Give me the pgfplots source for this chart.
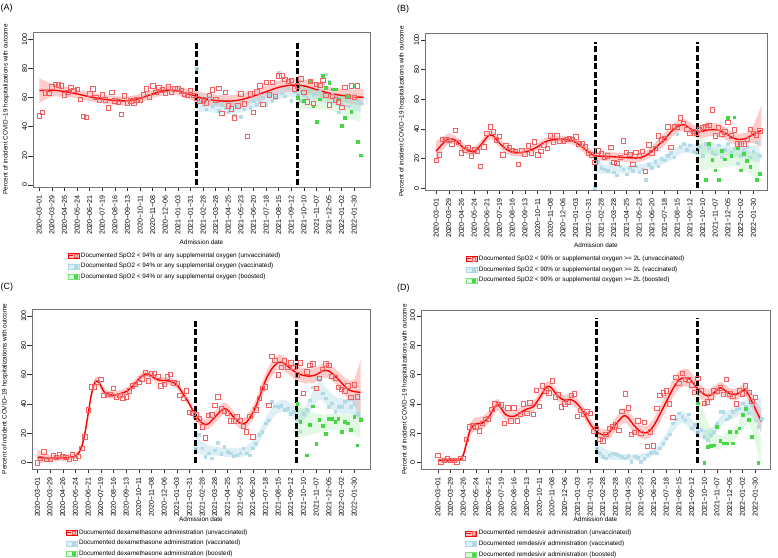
\documentclass[border=0pt]{standalone}
\usepackage{fontspec}
\setmainfont{Liberation Sans}
\usepackage{pgfplots}
\pgfplotsset{compat=1.18}
\usepgfplotslibrary{fillbetween}
\usepackage{pgfplotstable}

\definecolor{ptred}{RGB}{245,95,95}
\definecolor{lblue}{RGB}{173,216,230}
\definecolor{pgreen}{RGB}{70,215,70}
\definecolor{bgreen}{RGB}{120,225,120}
\newcommand\tl{\fontsize{6.4}{7.2}\selectfont}
\newcommand\tk{\fontsize{7.1}{8}\selectfont}

% ---------------- Panel A ----------------
\pgfplotstableread[row sep=\\]{w v\\0 47.6\\1 50\\2 63.2\\3 63\\4 67.5\\5 69\\6 68.7\\7 68\\8 62\\9 63.6\\10 67\\11 64.8\\12 65.7\\13 58.6\\14 47\\15 46.5\\16 62.7\\17 65.9\\18 60\\19 58.4\\20 61.8\\21 58.4\\22 53\\23 63.6\\24 57.7\\25 57.2\\26 48.3\\27 61.3\\28 56.3\\29 57.9\\30 56.5\\31 58.4\\32 58.4\\33 62\\34 66.1\\35 60.4\\36 68.2\\37 63.8\\38 67\\39 65.2\\40 63\\41 67.5\\42 63.8\\43 66.1\\44 65.9\\45 64.5\\46 62.2\\47 61.6\\48 64.8\\49 61.6\\50 59.3\\51 57.9\\52 58.4\\53 56.5\\54 61.6\\55 65.2\\56 58.4\\57 66.4\\58 49\\59 63.4\\60 54.2\\61 52.4\\62 46.2\\63 54.2\\64 62.5\\65 55.6\\66 33.4\\67 62.5\\68 50\\69 64\\70 68\\71 55.5\\72 70.5\\73 62\\74 70.5\\75 61\\76 75\\77 75\\78 72.5\\79 71\\80 72\\81 66\\82 68\\83 73\\84 63.5\\85 57\\86 71\\87 56\\88 69\\89 68.5\\90 72\\91 61.5\\92 55\\93 61\\94 58.5\\95 57\\96 53.5\\97 67\\98 61\\99 68\\100 60\\101 68\\}\Aup
\pgfplotstableread[row sep=\\]{w v\\50 80\\51 57\\52 55\\53 52\\54 60\\55 54\\56 56\\57 51\\58 55\\59 53\\60 50\\61 56\\62 48\\63 54\\64 47\\65 52\\66 56\\67 53\\68 58\\69 55\\70 57\\71 60\\72 55\\73 62\\74 58\\75 60\\76 77\\77 63\\78 61\\79 66\\80 58\\81 64\\82 62\\83 58\\84 62\\85 60\\86 65\\87 62\\88 67\\89 64\\90 70\\91 76\\92 71\\93 62\\94 58\\95 50\\96 55\\97 59\\98 54\\99 60\\100 62\\101 58\\102 56\\}\Avp
\pgfplotstableread[row sep=\\]{w v\\82 60\\84 58\\86 70.7\\87 54\\88 43.5\\89 58.8\\90 75\\91 67\\92 70\\93 65.7\\94 65.7\\95 58.8\\96 40.7\\97 46.2\\98 60.6\\99 50.3\\100 68\\101 29.5\\102 20.4\\}\Abp
\pgfplotstableread[row sep=\\]{w m lo hi\\0 64.8 56.3 73.3\\4 65 60.5 69.5\\8 64.2 60.7 67.7\\12 62.5 59.5 65.5\\16 60.5 57.5 63.5\\20 59 56 62\\24 58 55 61\\28 57.8 54.8 60.8\\32 59.5 56.5 62.5\\36 62.5 59.5 65.5\\40 65 62 68\\44 64.5 61.5 67.5\\48 62 58.5 65.5\\52 59.5 55.5 63.5\\56 58 54 62\\60 57.5 53.5 61.5\\64 58.5 54.5 62.5\\68 61 57 65\\72 64 60 68\\76 67 62.5 71.5\\80 68.5 64 73\\84 68 63.5 72.5\\88 65.5 61 70\\92 63 58.5 67.5\\96 61.5 57 66\\100 60.5 55.5 65.5\\103 60.2 54.2 66.2\\}\Auc
\pgfplotstableread[row sep=\\]{w m lo hi\\50 57 50 64\\54 55 50 60\\58 53.5 49 58\\62 53.5 49 58\\66 55 51 59\\70 58 54 62\\74 61.5 57.5 65.5\\78 64 60 68\\82 64.5 60.5 68.5\\86 63 59 67\\90 61 57 65.5\\94 59 54.5 63.5\\98 57.5 52.5 62.5\\102 56 50 62\\}\Avc
\pgfplotstableread[row sep=\\]{w m lo hi\\82 61 52 70\\86 60 53 67\\90 58.5 52 65\\94 56 50 62\\98 53 46 60\\102 51 43 59\\}\Abc

% ---------------- Panel B ----------------
\pgfplotstableread[row sep=\\]{w v\\0 19\\1 22.6\\2 33\\3 33\\4 32.5\\5 30\\6 39\\7 31\\8 24\\9 26\\10 27.6\\11 22\\12 26\\13 25\\14 14.7\\15 28\\16 37.3\\17 41.6\\18 38.2\\19 32.6\\20 35\\21 22.6\\22 28.7\\23 27.6\\24 25.8\\25 25\\26 16.3\\27 25.8\\28 23\\29 28.7\\30 24\\31 31.4\\32 22.6\\33 24.9\\34 29.4\\35 27\\36 35.5\\37 31\\38 35.5\\39 31.7\\40 32\\41 33\\42 33.5\\43 33\\44 34.8\\45 29.9\\46 30\\47 28\\48 23.5\\49 22.5\\50 17.4\\51 25.3\\52 23.5\\53 20.8\\54 22\\55 27.6\\56 17.4\\57 16.7\\58 21\\59 32\\60 24.2\\61 23\\62 16.3\\63 24.2\\64 22\\65 24.9\\66 11.3\\67 29.4\\68 24\\69 27\\70 35.5\\71 32.6\\72 33.7\\73 41.6\\74 27.6\\75 42\\76 41.6\\77 47.5\\78 44\\79 40\\80 37\\81 38.5\\82 37.5\\83 39.8\\84 41\\85 41.6\\86 42.3\\87 53\\88 35.5\\89 40.7\\90 36.6\\91 38\\92 44.6\\93 35.3\\94 39.4\\95 29.9\\96 30\\97 29.9\\98 33\\99 40\\100 37.1\\101 36\\102 38.9\\}\Bup
\pgfplotstableread[row sep=\\]{w v\\50 0\\51 18\\52 14\\53 13\\54 12\\55 17\\56 11\\57 9\\58 15\\59 13\\60 9.5\\61 14\\62 12\\63 15\\64 11\\65 13\\66 6\\67 16\\68 14\\69 18\\70 15\\71 20\\72 19\\73 22\\74 24\\75 21\\76 36.6\\77 28\\78 30\\79 26\\80 29\\81 25\\82 24\\83 28\\84 22\\85 30\\86 27.6\\87 24\\88 23\\89 29\\90 21\\91 26\\92 30\\93 24\\94 27\\95 17\\96 22\\97 26\\98 28\\99 21\\100 25\\101 31\\102 22\\}\Bvp
\pgfplotstableread[row sep=\\]{w v\\85 5.9\\86 29.9\\87 19.5\\88 12.2\\89 5.7\\90 25.3\\91 19.7\\92 47.5\\93 22\\94 48\\95 27.6\\96 12.2\\97 23.5\\98 18.6\\99 14.5\\101 5.7\\102 10\\}\Bbp
\pgfplotstableread[row sep=\\]{w m lo hi\\0 25 18 32\\2 30 25.5 34.5\\4 33.5 30 37\\6 32.5 29.5 35.5\\8 28.5 25.5 31.5\\10 25.5 22.5 28.5\\12 25 22 28\\14 29 26 32\\16 34.5 31.5 37.5\\17 36 33 39\\18 35.5 32.5 38.5\\20 30.5 27.5 33.5\\22 26.5 23.5 29.5\\24 24.5 22 27\\26 24 21.5 26.5\\28 24.5 22 27\\30 26 23.5 28.5\\32 28 25.5 30.5\\34 31 28.5 33.5\\36 32.5 30 35\\38 33 30.5 35.5\\40 33 30.5 35.5\\42 32.5 30 35\\44 31 28.5 33.5\\46 28 25 31\\48 24.5 21.5 27.5\\50 22 19 25\\54 21.5 18.5 24.5\\58 21 18 24\\62 20.5 17.5 23.5\\64 20.5 17.5 23.5\\66 22 19 25\\68 25 21.5 28.5\\70 29 25 33\\72 33 29 37\\74 38 34 42\\76 41.5 37.5 45.5\\78 43 39 47\\80 40.5 36.5 44.5\\82 38 34 42\\84 38.5 34 43\\86 39.5 35 44\\88 39.5 35 44\\90 38.5 34 43\\92 36 32 40\\94 33.5 29.5 37.5\\96 33 29 37\\98 34 30 38\\100 36.5 30.5 42.5\\102.5 39 28 56\\}\Buc
\pgfplotstableread[row sep=\\]{w m lo hi\\50 14 10 18\\54 13 10 16\\58 12.5 10 15\\62 13 10.5 15.5\\66 14.5 12 17\\70 17.5 15 20\\74 22 19 25\\78 27 24 30\\82 26.5 23 30\\86 27 23.5 30.5\\90 25.5 22 29\\94 24.5 21 28\\98 24 20 28\\102 23.5 17 30\\}\Bvc
\pgfplotstableread[row sep=\\]{w m lo hi\\82 26 12 40\\84 23 12 34\\86 21 13 29\\90 20 14 26\\94 21 15 27\\98 18 11 25\\102 14 4 24\\}\Bbc

% ---------------- Panel C ----------------
\pgfplotstableread[row sep=\\]{w v\\0 0\\1 3\\2 7.5\\3 2.3\\4 2.3\\5 4.8\\6 3.5\\7 5.5\\8 4.5\\9 3.5\\10 2.5\\11 5.5\\12 3\\13 4.5\\14 9.8\\15 17.7\\16 36\\17 51.8\\18 51.8\\19 55\\20 57\\21 46\\22 46.6\\23 46.8\\24 50.7\\25 45\\26 46\\27 44\\28 45\\29 48.9\\30 52.3\\31 53.6\\32 55\\33 57.3\\34 61.4\\35 55.9\\36 60.5\\37 61\\38 59\\39 52.3\\40 53.6\\41 58.6\\42 60.2\\43 54.5\\44 54\\45 46\\46 43.9\\47 48.9\\48 34.3\\49 33.6\\50 32.7\\51 30\\52 24.5\\53 17\\54 32.5\\55 32.7\\56 39.3\\57 45\\58 37\\59 35\\60 34\\61 28.6\\62 28.6\\63 31.4\\64 28.6\\65 25\\66 21\\67 31.8\\68 17.7\\69 36\\70 44\\71 50.7\\72 51.8\\73 39.3\\74 72.7\\75 70\\76 60\\77 65\\78 69.5\\79 65\\80 68.2\\81 65\\82 59.8\\83 68\\84 47.3\\85 62\\86 66.6\\87 67.3\\88 50.7\\89 57.5\\90 63.6\\91 67.3\\92 66.6\\93 59\\94 58\\95 51.4\\96 50\\97 48.9\\98 52.3\\99 44.5\\100 53\\101 45\\}\Cup
\pgfplotstableread[row sep=\\]{w v\\50 10\\51 18.9\\52 9.8\\53 4\\54 6.4\\55 3\\56 8.6\\57 13.6\\58 6\\59 11\\60 7.5\\61 6.4\\62 4.5\\63 5.2\\64 6.4\\65 9.8\\66 6.4\\67 5.2\\68 9.8\\69 13\\70 18.9\\71 21\\72 26.8\\73 29\\74 41.6\\75 38.6\\76 38\\77 39\\78 36\\79 37\\80 33.6\\81 34.8\\82 29\\83 21\\84 33.6\\85 36\\86 42.7\\87 51.4\\88 57.5\\89 56.4\\90 47.3\\91 43.9\\92 38.2\\93 40.5\\94 34.8\\95 38.2\\96 38.2\\97 41.6\\98 42.7\\99 38.2\\100 40\\101 33.6\\102 30\\}\Cvp
\pgfplotstableread[row sep=\\]{w v\\82 40\\83 28\\85 5.2\\86 25.7\\87 38.6\\88 13\\89 29.5\\90 25\\91 20\\92 30\\93 30\\94 28\\95 30\\96 21\\97 28\\98 27\\99 22.7\\100 31.4\\101 12\\102 29.5\\}\Cbp
\pgfplotstableread[row sep=\\]{w m lo hi\\0 3.5 -1 9\\4 3.2 1 5.4\\8 3.2 1.2 5.2\\10 3.5 1.5 5.5\\12 4.5 2.5 6.5\\13 6.5 4.5 8.5\\14 11 9 13\\15 20 17.5 22.5\\16 33 30.5 35.5\\17 46 43.5 48.5\\18 54 51 57\\18.6 55.6 52.6 58.6\\19.5 54.5 51.5 57.5\\21 48.5 46 51\\22 47 44.5 49.5\\24 46 43.5 48.5\\26 47 44.5 49.5\\28 48.5 46 51\\30 52 49.5 54.5\\32 57 54.5 59.5\\34 60.5 58 63\\35 60.5 58 63\\36 59 56.5 61.5\\38 56.5 54 59\\40 56 53.5 58.5\\42 55.5 53 58\\44 53 50.5 55.5\\46 47 44.5 49.5\\48 40 37.5 42.5\\50 32 29 35\\52 27 23.5 30.5\\53 26 22.5 29.5\\54 26.5 23 30\\56 31 27 35\\58 35.5 31.5 39.5\\59 37 33 41\\60 36 32 40\\62 31 27 35\\64 27 23 31\\65 26.5 22.5 30.5\\66 27.5 23.5 31.5\\68 34 29.5 38.5\\70 44 39 49\\72 56 51 61\\74 64 59 69\\76 68.5 63.5 73.5\\77 68.5 63.5 73.5\\78 67.5 62.5 72.5\\80 64 59 69\\82 61 56 66\\84 59.5 54.5 64.5\\86 59 54 64\\88 60 55 65\\90 62.5 57.5 67.5\\91 63 58 68\\92 62.5 57.5 67.5\\94 59 54 64\\96 54.5 49 60\\98 50 43.5 56.5\\100 48.5 40 57\\102 48 26 70\\}\Cuc
\pgfplotstableread[row sep=\\]{w m lo hi\\50 12 6 18\\53 9 5 13\\56 8 5 11\\60 7 4 10\\64 7 4 10\\66 8 5 11\\68 12 8.5 15.5\\70 18 14 22\\72 26 22 30\\74 33.5 29.5 37.5\\76 38 34 42\\78 39 35 43\\80 36.5 32.5 40.5\\82 33.5 29.5 37.5\\84 33 29 37\\86 39 34 44\\88 47 41 53\\89 49 43 55\\90 48 42 54\\92 43.5 38 49\\94 40 35 45\\96 38.5 33.5 43.5\\98 38.5 33.5 43.5\\100 39 33 45\\102 38 29 47\\}\Cvc
\pgfplotstableread[row sep=\\]{w m lo hi\\82 29 17 41\\86 27 19 35\\90 27 21 33\\94 28 22.5 33.5\\98 27 21 33\\102 26 17 35\\}\Cbc

% ---------------- Panel D ----------------
\pgfplotstableread[row sep=\\]{w v\\0 5.2\\1 0.5\\2 1.8\\3 2.7\\4 1.8\\5 1.8\\6 0.7\\7 3\\8 3\\9 16\\10 24.5\\11 25\\12 24.5\\13 21.8\\14 26.8\\15 29.5\\16 30\\17 36.4\\18 40\\19 39.8\\20 39.3\\21 27\\22 37.5\\23 28.6\\24 37.5\\25 28.6\\26 33\\27 40\\28 33.6\\29 40.9\\30 33\\31 49.5\\32 38.6\\33 52.3\\34 49\\35 47.5\\36 55.7\\37 45\\38 46.4\\39 38.2\\40 40\\41 41\\42 46\\43 46.8\\44 31.4\\45 35.5\\46 33\\47 34.8\\48 33.6\\49 21.5\\50 23.4\\51 16\\52 15\\53 19.5\\54 23.4\\55 24.5\\56 25.7\\57 22\\58 34.8\\59 46.8\\60 37.5\\61 19.5\\62 20.5\\63 28.6\\64 20\\65 27.5\\66 11\\67 21\\68 11.6\\69 37\\70 46\\71 47.7\\72 48.9\\73 40\\74 31\\75 58\\76 54\\77 61\\78 57\\79 56.5\\80 53\\81 48\\82 57.5\\83 49.5\\84 40.5\\85 41.5\\86 45\\87 49\\88 48.5\\89 51\\90 46.5\\91 57\\92 47\\93 45.5\\94 40\\95 49.5\\96 47\\97 52.5\\98 48\\99 42\\100 44.5\\}\Dup
\pgfplotstableread[row sep=\\]{w v\\50 9.8\\51 6.4\\52 4\\53 3\\54 5.2\\55 6.4\\56 6\\57 5.2\\58 4\\59 3\\60 4.8\\61 0.7\\62 4.5\\63 3.6\\64 0.7\\65 2.7\\66 5.2\\67 6.8\\68 7.5\\69 6.4\\70 9.8\\71 13\\72 16.6\\73 19.5\\74 26.8\\75 29.5\\76 33.6\\77 31.4\\78 29\\79 33\\80 23.4\\81 26\\82 21\\83 22.3\\84 17.7\\85 15.5\\86 18.9\\87 21\\88 26.8\\89 34.8\\90 34.8\\91 29.5\\92 31.4\\93 34.8\\94 36\\95 37\\96 40.5\\97 38.2\\98 33.6\\99 39.3\\100 29\\101 24.5\\102 30\\}\Dvp
\pgfplotstableread[row sep=\\]{w v\\82 40.5\\84 0\\85 11\\86 11.4\\87 12\\88 24.5\\89 15\\90 13.2\\91 13.2\\92 21\\93 13.2\\94 21\\95 23.4\\96 32.5\\97 37\\98 29.5\\99 17.7\\101 0\\}\Dbp
\pgfplotstableread[row sep=\\]{w m lo hi\\0 1.5 -0.5 3.5\\4 1.7 0 3.4\\7 2.2 0.5 3.9\\8 5 3 7\\9 13 10 16\\10 21 17 25\\11 25 20.5 29.5\\12 26.5 22 31\\14 27 22.5 31.5\\16 31 27 35\\18 38 34 42\\19 39.5 35.5 43.5\\20 37 33 41\\21 33.5 30 37\\22 32 28.5 35.5\\24 31.5 28 35\\26 34 30.5 37.5\\28 36.5 33 40\\30 38 34.5 41.5\\32 44 40.5 47.5\\34 51 47.5 54.5\\35 52 48.5 55.5\\36 50.5 47 54\\38 45 41.5 48.5\\40 42.5 39 46\\42 43 39.5 46.5\\44 40 36.5 43.5\\46 34 30.5 37.5\\48 26.5 23 30\\50 21 17.5 24.5\\52 19 15.5 22.5\\53 19 15 23\\54 20.5 16.5 24.5\\56 26 21.5 30.5\\58 31 26 36\\59 32 27 37\\60 30.5 25.5 35.5\\62 25 20 30\\64 21 16.5 25.5\\66 20.5 16 25\\68 25 20 30\\70 33 27.5 38.5\\72 41.5 36 47\\74 50 44 56\\76 56.5 50.5 62.5\\78 58 52 64\\79 57.5 51.5 63.5\\80 55.5 50 61\\82 50 45 55\\84 46.5 42 51\\85 45.5 41 50\\86 46 41.5 50.5\\88 49.5 45.5 53.5\\89 51 47 55\\90 50 46 54\\92 47 43 51\\94 46.5 42.5 50.5\\96 49 45 53\\97 49.5 45.5 53.5\\98 46 41.5 50.5\\100 37 31 43\\102 28 20 36\\}\Duc
\pgfplotstableread[row sep=\\]{w m lo hi\\50 8.5 4 13\\54 5 2 8\\58 4 2 6\\62 3.5 1.5 5.5\\66 5 3 7\\68 7 5 9\\70 11 8.5 13.5\\72 17 14 20\\74 24 20.5 27.5\\76 30 26 34\\77 31 27 35\\78 30 26 34\\80 26 22.5 29.5\\82 22 18.5 25.5\\84 19 15.5 22.5\\86 20 16.5 23.5\\88 25 21.5 28.5\\90 30 26.5 33.5\\92 33 29.5 36.5\\94 35 31 39\\96 38 34 42\\98 38 33 43\\100 36 29 43\\102 33 21 45\\}\Dvc
\pgfplotstableread[row sep=\\]{w m lo hi\\82 38 28 48\\84 26 18 34\\86 17 11 23\\88 14 9 19\\90 14.5 10 19\\92 17 12.5 21.5\\94 21 16.5 25.5\\96 27 22 32\\98 32 26 38\\100 22 14 30\\102 6 -4 16\\}\Dbc

\pgfplotsset{
  panel/.style={
    scale only axis,
    ytick={0,20,40,60,80,100},
    xtick={0,4,...,100},
    xticklabels={2020−03−01,2020−03−29,2020−04−26,2020−05−24,2020−06−21,2020−07−19,2020−08−16,2020−09−13,2020−10−11,2020−11−08,2020−12−06,2021−01−03,2021−01−31,2021−02−28,2021−03−28,2021−04−25,2021−05−23,2021−06−20,2021−07−18,2021−08−15,2021−09−12,2021−10−10,2021−11−07,2021−12−05,2022−01−02,2022−01−30},
    tick align=outside, xtick pos=bottom, ytick pos=left,
    major tick length=4.5bp,
    every tick/.style={black!80, line width=0.4bp},
    axis line style={black!55, line width=0.5bp},
    tick label style={font=\tk},
    xticklabel style={rotate=90, anchor=east, inner sep=3.5bp},
    yticklabel style={rotate=90, anchor=south, inner sep=1.2bp},
    /pgf/number format/assume math mode=true,
    xlabel={Admission date},
    ylabel={Percent of incident COVID−19 hospitalizations with outcome},
    every axis x label/.style={at={(axis description cs:0.5,-0.3125)}, anchor=center, font=\tl},
    every axis y label/.style={at={(axis description cs:-0.08,0.5)}, rotate=90, anchor=center, font=\tl},
    legend style={draw=none, fill=none, font=\tl, inner sep=0pt, row sep=0.6bp, anchor=north west, cells={anchor=west}},
    legend cell align=left,
  },
}

% legend images
\pgfplotsset{
  lgu/.style={legend image code/.code={\fill[red,fill opacity=0.22] (0bp,-2.6bp) rectangle (11bp,2.6bp); \draw[red,line width=1bp] (0bp,0bp)--(5.5bp,0bp); \draw[ptred,line width=0.5bp] (6.2bp,-1.8bp) rectangle (9.8bp,1.8bp);}},
  lgv/.style={legend image code/.code={\fill[lblue,fill opacity=0.4] (0bp,-2.6bp) rectangle (11bp,2.6bp); \fill[lblue] (6.4bp,-1.5bp) rectangle (9.4bp,1.5bp);}},
  lgb/.style={legend image code/.code={\fill[bgreen,fill opacity=0.2] (0bp,-2.6bp) rectangle (11bp,2.6bp); \fill[pgreen] (6.4bp,-1.5bp) rectangle (9.4bp,1.5bp);}},
}

\newcommand\panelcontent[8]{%
  \addplot[name path=ruh, draw=none, smooth, forget plot] table[x=w,y=hi] {#4};
  \addplot[name path=rul, draw=none, smooth, forget plot] table[x=w,y=lo] {#4};
  \addplot[red, fill opacity=0.2, draw=none, forget plot] fill between[of=ruh and rul];
  \addplot[name path=rvh, draw=none, smooth, forget plot] table[x=w,y=hi] {#5};
  \addplot[name path=rvl, draw=none, smooth, forget plot] table[x=w,y=lo] {#5};
  \addplot[lblue, fill opacity=0.4, draw=none, forget plot] fill between[of=rvh and rvl];
  \addplot[name path=rbh, draw=none, smooth, forget plot] table[x=w,y=hi] {#6};
  \addplot[name path=rbl, draw=none, smooth, forget plot] table[x=w,y=lo] {#6};
  \addplot[bgreen, fill opacity=0.2, draw=none, forget plot] fill between[of=rbh and rbl];
  \addplot[only marks, mark=square*, mark size=1.3bp, lblue, mark options={fill opacity=0.85, draw opacity=0.85}, forget plot] table[x=w,y=v] {#2};
  \addplot[only marks, mark=square*, mark size=1.35bp, pgreen, forget plot] table[x=w,y=v] {#3};
  \addplot[only marks, mark=square, mark size=2.2bp, ptred, mark options={line width=0.6bp}, forget plot] table[x=w,y=v] {#1};
  \addplot[red, line width=1.4bp, smooth, forget plot] table[x=w,y=m] {#4};
  \addplot[black, line width=2.8bp, dash pattern=on 6bp off 2.5bp, forget plot] coordinates {(#7,0) (#7,98.5)};
  \addplot[black, line width=2.8bp, dash pattern=on 6bp off 2.5bp, forget plot] coordinates {(#8,0) (#8,98.5)};
}

\begin{document}
\begin{tikzpicture}

\node[anchor=west, font=\fontsize{9}{10}\selectfont, inner sep=0pt] at (0.5bp,550bp) {(A)};
\node[anchor=west, font=\fontsize{9}{10}\selectfont, inner sep=0pt] at (397bp,549bp) {(B)};
\node[anchor=west, font=\fontsize{9}{10}\selectfont, inner sep=0pt] at (0.5bp,271bp) {(C)};
\node[anchor=west, font=\fontsize{9}{10}\selectfont, inner sep=0pt] at (397bp,270bp) {(D)};

% Panel A
\begin{axis}[panel, at={(33bp,371bp)}, anchor=south west, width=337bp, height=155bp,
  xmin=-2, xmax=105, ymin=-1.4, ymax=105,
  xlabel style={at={(axis description cs:0.5,-0.355)}},
  ylabel style={at={(axis description cs:-0.08,0.5)}},
  legend style={at={(rel axis cs:0.101,-0.409)}}]
\panelcontent{\Aup}{\Avp}{\Abp}{\Auc}{\Avc}{\Abc}{50}{82}
\addlegendimage{lgu}\addlegendentry{Documented SpO2 < 94\% or any supplemental oxygen (unvaccinated)}
\addlegendimage{lgv}\addlegendentry{Documented SpO2 < 94\% or any supplemental oxygen (vaccinated)}
\addlegendimage{lgb}\addlegendentry{Documented SpO2 < 94\% or any supplemental oxygen (boosted)}
\end{axis}

% Panel B
\begin{axis}[panel, at={(425bp,368bp)}, anchor=south west, width=342bp, height=157bp,
  xmin=-3.5, xmax=104.3, ymin=-1.1, ymax=104.7,
  xlabel style={at={(axis description cs:0.5,-0.35)}},
  ylabel style={at={(axis description cs:-0.067,0.5)}},
  legend style={at={(rel axis cs:0.117,-0.406)}}]
\panelcontent{\Bup}{\Bvp}{\Bbp}{\Buc}{\Bvc}{\Bbc}{50.2}{82.3}
\addlegendimage{lgu}\addlegendentry{Documented SpO2 < 90\% or supplemental oxygen >= 2L (unvaccinated)}
\addlegendimage{lgv}\addlegendentry{Documented SpO2 < 90\% or supplemental oxygen >= 2L (vaccinated)}
\addlegendimage{lgb}\addlegendentry{Documented SpO2 < 90\% or supplemental oxygen >= 2L (boosted)}
\end{axis}

% Panel C
\begin{axis}[panel, at={(32bp,89bp)}, anchor=south west, width=338bp, height=160bp,
  xmin=-1.7, xmax=105, ymin=-4.3, ymax=104.8,
  xlabel style={at={(axis description cs:0.5,-0.3125)}},
  ylabel style={at={(axis description cs:-0.08,0.5)}},
  legend style={at={(rel axis cs:0.098,-0.365)}}]
\panelcontent{\Cup}{\Cvp}{\Cbp}{\Cuc}{\Cvc}{\Cbc}{49.8}{81.8}
\addlegendimage{lgu}\addlegendentry{Documented dexamethasone administration (unvaccinated)}
\addlegendimage{lgv}\addlegendentry{Documented dexamethasone administration (vaccinated)}
\addlegendimage{lgb}\addlegendentry{Documented dexamethasone administration (boosted)}
\end{axis}

% Panel D
\begin{axis}[panel, at={(421bp,89bp)}, anchor=south west, width=349bp, height=159bp,
  xmin=-5.3, xmax=104.7, ymin=-4.3, ymax=104,
  xlabel style={at={(axis description cs:0.5,-0.314)}},
  ylabel style={at={(axis description cs:-0.046,0.5)}},
  legend style={at={(rel axis cs:0.126,-0.372)}}]
\panelcontent{\Dup}{\Dvp}{\Dbp}{\Duc}{\Dvc}{\Dbc}{50.1}{81.8}
\addlegendimage{lgu}\addlegendentry{Documented remdesivir administration (unvaccinated)}
\addlegendimage{lgv}\addlegendentry{Documented remdesivir administration (vaccinated)}
\addlegendimage{lgb}\addlegendentry{Documented remdesivir administration (boosted)}
\end{axis}

\pgfresetboundingbox
\path[use as bounding box] (0bp,0bp) rectangle (778bp,558bp);
\end{tikzpicture}
\end{document}
